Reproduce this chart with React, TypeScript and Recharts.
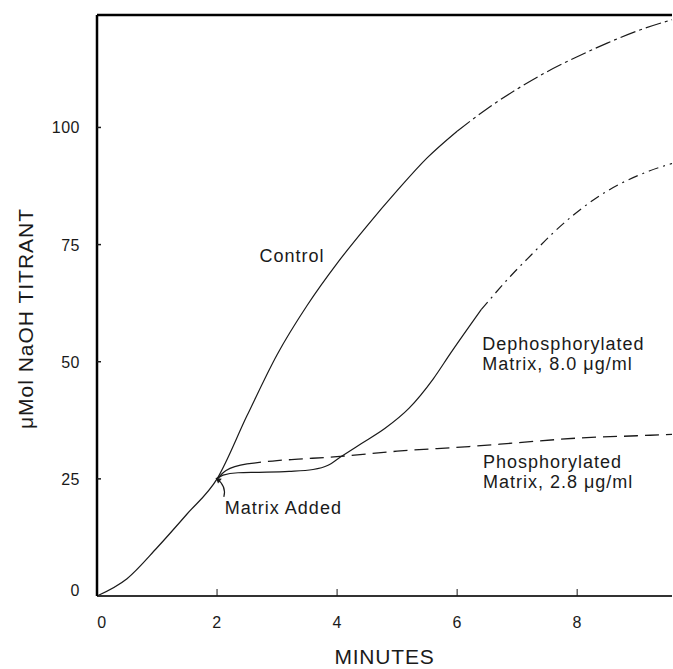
import { LineChart, Line, XAxis, YAxis, ReferenceDot, ReferenceLine } from 'recharts';

// minutes / µMol NaOH
const controlT = [0, 0.5, 1, 1.5, 2, 2.5, 3, 3.5, 4, 4.5, 5, 5.5, 6, 6.5, 7, 7.5, 8, 8.5, 9, 9.58];
const controlY = [0, 3.7, 10.3, 17.5, 25, 38.5, 51.5, 62, 71, 79, 86.5, 93.5, 99.2, 104, 108.2, 111.9, 115.1, 118, 120.6, 123];

const dephosT = [2, 2.1, 2.35, 2.7, 3.2, 3.6, 3.85, 4.05, 4.4, 4.8, 5.2, 5.6, 5.9, 6.2, 6.4, 6.9, 7.25, 7.6, 8.3, 9.2, 9.58];
const dephosY = [25, 25.8, 26.3, 26.4, 26.6, 27, 27.9, 29.6, 32.5, 35.8, 40.1, 46.3, 52, 57.5, 61.1, 68.4, 73, 77.5, 84.8, 90.7, 92.3];

const phosT = [2, 2.15, 2.5, 3, 3.35, 4.05, 5, 6.2, 7, 8, 9, 9.58];
const phosY = [25, 26.8, 28.2, 28.9, 29.2, 29.8, 30.9, 31.9, 32.7, 33.7, 34.2, 34.5];

const xTicks = [0, 2, 4, 6, 8];
const yTicks = [0, 25, 50, 75, 100];

const FONT = '"Liberation Sans", Arial, Helvetica, sans-serif';
const INK = '#1a1a1a';

const pts = (ts: number[], ys: number[]) => ts.map((t, i) => ({ t, v: ys[i] }));

const control = pts(controlT, controlY);
const dephos = pts(dephosT, dephosY);
const phos = pts(phosT, phosY);

// split points where the printed line style changes
const controlSolid = control.slice(0, 13);
const controlDash = control.slice(12);
const dephosSolid = dephos.slice(0, 15);
const dephosDash = dephos.slice(14);
const phosSolid = phos.slice(0, 3);
const phosDash = phos.slice(2);

function XTick(props: any) {
  const { x, y, payload } = props;
  return (
    <g>
      {payload.value !== 0 && <line x1={x} x2={x} y1={y} y2={y - 7} stroke={INK} strokeWidth={1} />}
      <text x={payload.value === 0 ? x + 5 : x} y={y + 32} textAnchor="middle" fontSize={16} fontFamily={FONT} fill={INK} letterSpacing={0.5}>
        {payload.value}
      </text>
    </g>
  );
}

function YTickLeft(props: any) {
  const { x, y, payload } = props;
  return (
    <g>
      {payload.value !== 0 && <line x1={x} x2={x + 4} y1={y} y2={y} stroke={INK} strokeWidth={1.5} />}
      <text x={x - 17} y={payload.value === 0 ? y : y + 6} textAnchor="end" fontSize={16} fontFamily={FONT} fill={INK} letterSpacing={0.5}>
        {payload.value}
      </text>
    </g>
  );
}

function YTickRight(props: any) {
  const { x, y, payload } = props;
  if (payload.value === 0) return <g />;
  return <line x1={x - 7} x2={x + 1} y1={y} y2={y} stroke={INK} strokeWidth={2} />;
}

function Note({ cx, cy, lines, anchor }: { cx: number; cy: number; lines: string[]; anchor: 'start' | 'middle' }) {
  return (
    <g>
      {lines.map((s, i) => (
        <text key={i} x={cx} y={cy + 6 + i * 20} textAnchor={anchor} fontSize={18} fontFamily={FONT} fill={INK} letterSpacing={1}>
          {s}
        </text>
      ))}
    </g>
  );
}

function MatrixAdded({ cx, cy }: { cx: number; cy: number }) {
  const ex = cx - 9;
  const ey = cy - 30;
  return (
    <g>
      <Note cx={cx} cy={cy} lines={['Matrix Added']} anchor="start" />
      <path d={`M ${cx - 1} ${cy - 11} Q ${cx + 2} ${cy - 22} ${ex} ${ey}`} fill="none" stroke={INK} strokeWidth={1.2} />
      <path d={`M ${ex} ${ey} L ${ex + 2.2} ${ey + 5.6} L ${ex + 5.9} ${ey + 0.9} Z`} fill={INK} />
    </g>
  );
}

export default function App() {
  return (
    <div style={{ position: 'absolute', left: 0, top: 0, width: 673, height: 669, background: '#fff' }}>
      <LineChart width={673} height={669} margin={{ top: 15, right: 0, bottom: 13, left: 37 }}>
        <XAxis
          type="number"
          dataKey="t"
          domain={[0, 9.58]}
          ticks={xTicks}
          allowDuplicatedCategory={false}
          tickSize={0}
          tickMargin={0}
          tickLine={false}
          height={60}
          axisLine={{ stroke: '#333', strokeWidth: 2 }}
          tick={<XTick />}
          label={(p: any) => (
            <text x={p.viewBox.x + p.viewBox.width / 2} y={p.viewBox.y + 68} textAnchor="middle" fontSize={21} fontFamily={FONT} fill={INK} letterSpacing={0.8}>
              MINUTES
            </text>
          )}
        />
        <YAxis
          yAxisId="l"
          type="number"
          domain={[0, 124]}
          ticks={yTicks}
          width={60}
          tickSize={0}
          tickMargin={0}
          tickLine={false}
          axisLine={{ stroke: '#000', strokeWidth: 2.5 }}
          tick={<YTickLeft />}
          label={(p: any) => {
            const cx = p.viewBox.x - 12;
            const cy = p.viewBox.y + p.viewBox.height / 2 + 13;
            return (
              <text x={cx} y={cy} transform={`rotate(-90, ${cx}, ${cy})`} textAnchor="middle" dominantBaseline="central" fontSize={21} fontFamily={FONT} fill={INK} letterSpacing={1}>
                μMol NaOH TITRANT
              </text>
            );
          }}
        />
        <YAxis
          yAxisId="r"
          orientation="right"
          type="number"
          domain={[0, 124]}
          ticks={yTicks}
          width={1}
          tickSize={0}
          tickMargin={0}
          tickLine={false}
          axisLine={false}
          tick={<YTickRight />}
        />
        <ReferenceLine yAxisId="l" y={124} stroke="#000" strokeWidth={2.5} />

        <Line yAxisId="l" data={controlSolid} dataKey="v" type="monotone" stroke={INK} strokeWidth={1.2} dot={false} isAnimationActive={false} />
        <Line yAxisId="l" data={controlDash} dataKey="v" type="monotone" stroke={INK} strokeWidth={1.2} strokeDasharray="16 4 3 4" dot={false} isAnimationActive={false} />
        <Line yAxisId="l" data={dephosSolid} dataKey="v" type="monotone" stroke={INK} strokeWidth={1.2} dot={false} isAnimationActive={false} />
        <Line yAxisId="l" data={dephosDash} dataKey="v" type="monotone" stroke={INK} strokeWidth={1.2} strokeDasharray="10 5 2 5" dot={false} isAnimationActive={false} />
        <Line yAxisId="l" data={phosSolid} dataKey="v" type="monotone" stroke={INK} strokeWidth={1.2} dot={false} isAnimationActive={false} />
        <Line yAxisId="l" data={phosDash} dataKey="v" type="monotone" stroke={INK} strokeWidth={1.3} strokeDasharray="14 7" dot={false} isAnimationActive={false} />

        <ReferenceDot yAxisId="l" x={3.25} y={72.6} r={0} shape={(p: any) => <Note cx={p.cx} cy={p.cy} lines={['Control']} anchor="middle" />} />
        <ReferenceDot yAxisId="l" x={2.13} y={18.8} r={0} shape={(p: any) => <MatrixAdded cx={p.cx} cy={p.cy} />} />
        <ReferenceDot yAxisId="l" x={6.42} y={53.8} r={0} shape={(p: any) => <Note cx={p.cx} cy={p.cy} lines={['Dephosphorylated', 'Matrix, 8.0 μg/ml']} anchor="start" />} />
        <ReferenceDot yAxisId="l" x={6.43} y={28.6} r={0} shape={(p: any) => <Note cx={p.cx} cy={p.cy} lines={['Phosphorylated', 'Matrix, 2.8 μg/ml']} anchor="start" />} />
      </LineChart>
    </div>
  );
}
